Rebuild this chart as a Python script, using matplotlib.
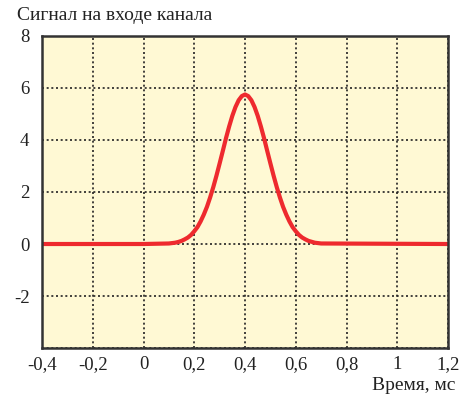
import matplotlib
matplotlib.use("Agg")
import matplotlib.pyplot as plt
from matplotlib.ticker import FixedLocator, FixedFormatter

# значения сигнала
t = [-0.4, 0.0, 0.1, 0.125, 0.1375, 0.15, 0.1625, 0.175, 0.1875, 0.2, 0.2125,
     0.225, 0.2375, 0.25, 0.2625, 0.275, 0.2875, 0.3, 0.3125, 0.325, 0.3375,
     0.35, 0.3625, 0.375, 0.3875, 0.4, 0.4125, 0.425, 0.4375, 0.45, 0.4625,
     0.475, 0.4875, 0.5, 0.5125, 0.525, 0.5375, 0.55, 0.5625, 0.575, 0.5875,
     0.6, 0.6125, 0.625, 0.6375, 0.65, 0.675, 0.7, 1.2]
s = [0.0, 0.0, 0.02, 0.05, 0.08, 0.12, 0.18, 0.25, 0.35, 0.49, 0.65,
     0.87, 1.13, 1.43, 1.79, 2.19, 2.63, 3.10, 3.58, 4.07, 4.52,
     4.93, 5.27, 5.53, 5.69, 5.75, 5.69, 5.53, 5.27, 4.93, 4.52,
     4.07, 3.58, 3.10, 2.63, 2.19, 1.79, 1.43, 1.13, 0.87, 0.65,
     0.49, 0.35, 0.25, 0.18, 0.12, 0.05, 0.02, 0.0]

xticks = [-0.4, -0.2, 0, 0.2, 0.4, 0.6, 0.8, 1, 1.2]
xlabels = ["-0,4", "-0,2", "0", "0,2", "0,4", "0,6", "0,8", "1", "1,2"]
yticks = [-4, -2, 0, 2, 4, 6, 8]
ylabels = ["", "-2", "0", "2", "4", "6", "8"]

plt.rcParams['font.family'] = ['Liberation Serif', 'DejaVu Serif']

fig = plt.figure(figsize=(4.6, 3.99), dpi=100)
ax = fig.add_axes([0.0913, 0.1278, 0.8827, 0.782])
ax.set_facecolor("#fff9d4")

ax.plot(t, s, color="#ee2a2e", linewidth=3.0, solid_capstyle="butt",
        solid_joinstyle="round")

ax.set_xlim(-0.4, 1.2)
ax.set_ylim(-4, 8)
ax.xaxis.set_major_locator(FixedLocator(xticks))
ax.xaxis.set_major_formatter(FixedFormatter(xlabels))
ax.yaxis.set_major_locator(FixedLocator(yticks))
ax.yaxis.set_major_formatter(FixedFormatter(ylabels))
ax.tick_params(length=0, labelsize=13.5, colors="#222222")
ax.tick_params(axis="y", pad=9)
ax.tick_params(axis="x", pad=6)
ax.grid(True, color="#222222", linestyle=(0, (1.2, 1.6)), linewidth=1.2)

for sp in ax.spines.values():
    sp.set_linewidth(1.8)
    sp.set_color("#333333")

fig.text(0.038, 0.962, "Сигнал на входе канала", fontsize=14,
         ha="left", va="center", color="#222222")
fig.text(0.99, 0.035, "Время, мс", fontsize=14,
         ha="right", va="center", color="#222222")

fig.savefig("out.png", dpi=100)
